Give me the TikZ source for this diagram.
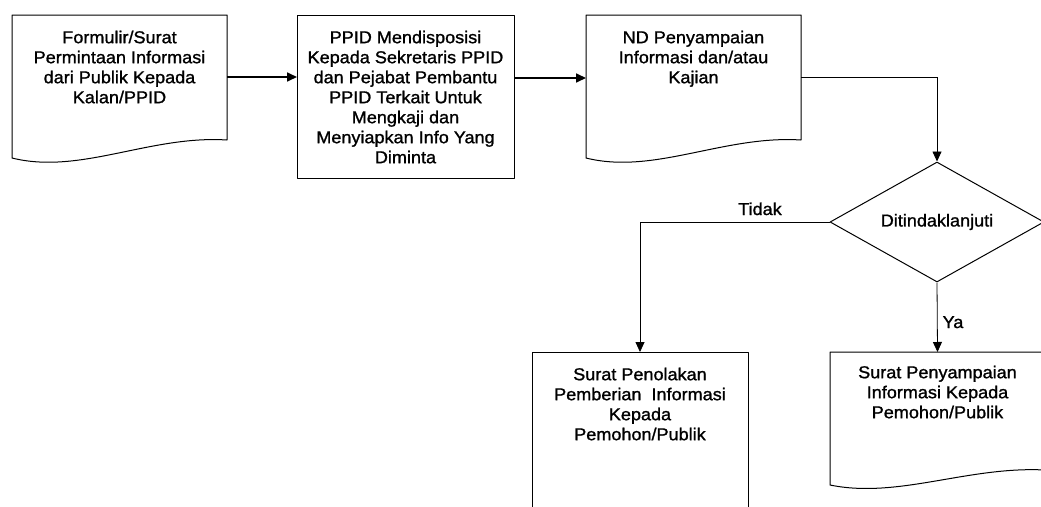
\documentclass[tikz,border=0pt]{standalone}
\usepackage{fontspec}
\setmainfont{Liberation Sans}[FakeStretch=1.05,FakeBold=1.2]
\usetikzlibrary{arrows.meta,shapes.geometric}

\begin{document}
\begin{tikzpicture}[x=1pt,y=-1pt,
  frame/.style={draw=none, inner sep=0pt, outer sep=0pt, anchor=north west},
  edge/.style={draw=black, line width=1pt, line join=round},
  txt/.style={align=center, inner sep=0pt, anchor=north,
    font=\fontsize{17.2}{20}\selectfont},
  lbl/.style={inner sep=0pt, font=\fontsize{17.2}{20}\selectfont},
  mainarrow/.style={draw=black, line width=1.7pt, -{Triangle[length=10pt,width=9pt]}},
  thinarrow/.style={draw=black, line width=0.8pt, -{Triangle[length=10pt,width=9pt]}},
]
\newcommand{\firstline}{\rule{0pt}{13pt}}
\useasboundingbox (0,0) rectangle (1041,506);
\clip (0,0) rectangle (1041,506);

% box frames (geometry only)
\node[frame, minimum width=215pt, minimum height=143pt] (b1) at (12,15) {};
\node[frame, minimum width=217pt, minimum height=163pt] (b2) at (297,15) {};
\node[frame, minimum width=215pt, minimum height=143pt] (b3) at (586,15) {};
\node[frame, minimum width=216pt, minimum height=170pt] (rej) at (532,352) {};
\node[frame, minimum width=215pt, minimum height=133pt] (acc) at (830,352) {};

% document shapes with wavy bottom
\draw[edge] (b1.south west) -- (b1.north west) -- (b1.north east)
  -- ([yshift=18pt]b1.south east)
  .. controls +(-77,-5) and +(68,17) .. (b1.south west) -- cycle;
\draw[edge] (b3.south west) -- (b3.north west) -- (b3.north east)
  -- ([yshift=18pt]b3.south east)
  .. controls +(-77,-5) and +(68,17) .. (b3.south west) -- cycle;
\draw[edge] (acc.south west) -- (acc.north west) -- (acc.north east)
  -- ([yshift=15pt]acc.south east)
  .. controls +(-77,-4) and +(68,14) .. (acc.south west) -- cycle;

% plain process boxes
\draw[edge] (b2.north west) rectangle (b2.south east);
\draw[edge] (rej.north west) rectangle (rej.south east);

% decision
\node[diamond, edge, aspect=1.78, minimum width=214pt, minimum height=120pt,
  inner sep=0pt, font=\fontsize{17.2}{20}\selectfont] (dia) at (937,222) {Ditindaklanjuti};

% texts
\node[txt] (t1) at ([yshift=-15pt]b1.north)
  {\firstline Formulir/Surat\\Permintaan Informasi\\dari Publik Kepada\\Kalan/PPID};
\node[txt] (t2) at ([yshift=-15pt]b2.north)
  {\firstline PPID Mendisposisi\\Kepada Sekretaris PPID\\dan Pejabat Pembantu\\PPID Terkait Untuk\\Mengkaji dan\\Menyiapkan Info Yang\\Diminta};
\node[txt] (t3) at ([yshift=-15pt]b3.north)
  {\firstline ND Penyampaian\\Informasi dan/atau\\Kajian};
\node[txt] (t4) at ([yshift=-15pt]rej.north)
  {\firstline Surat Penolakan\\Pemberian\ \ Informasi\\Kepada\\Pemohon/Publik};
\node[txt] (t5) at ([yshift=-13pt]acc.north)
  {\firstline Surat Penyampaian\\Informasi Kepada\\Pemohon/Publik};

% connectors
\draw[mainarrow] ([yshift=-62pt]b1.north east) -- ([yshift=-62pt]b2.north west);
\draw[mainarrow] ([yshift=-63pt]b2.north east) -- ([yshift=-63pt]b3.north west);
\draw[thinarrow] ([yshift=-62pt]b3.north east) -| (dia.north);
\draw[thinarrow] (dia.west) -| (rej.north);
\draw[thinarrow] (dia.south) -- (acc.north);

% branch labels
\node[lbl, anchor=base] (tidak) at (760,215) {Tidak};
\node[lbl, anchor=base] (ya) at (953,328) {Ya};
\end{tikzpicture}
\end{document}
